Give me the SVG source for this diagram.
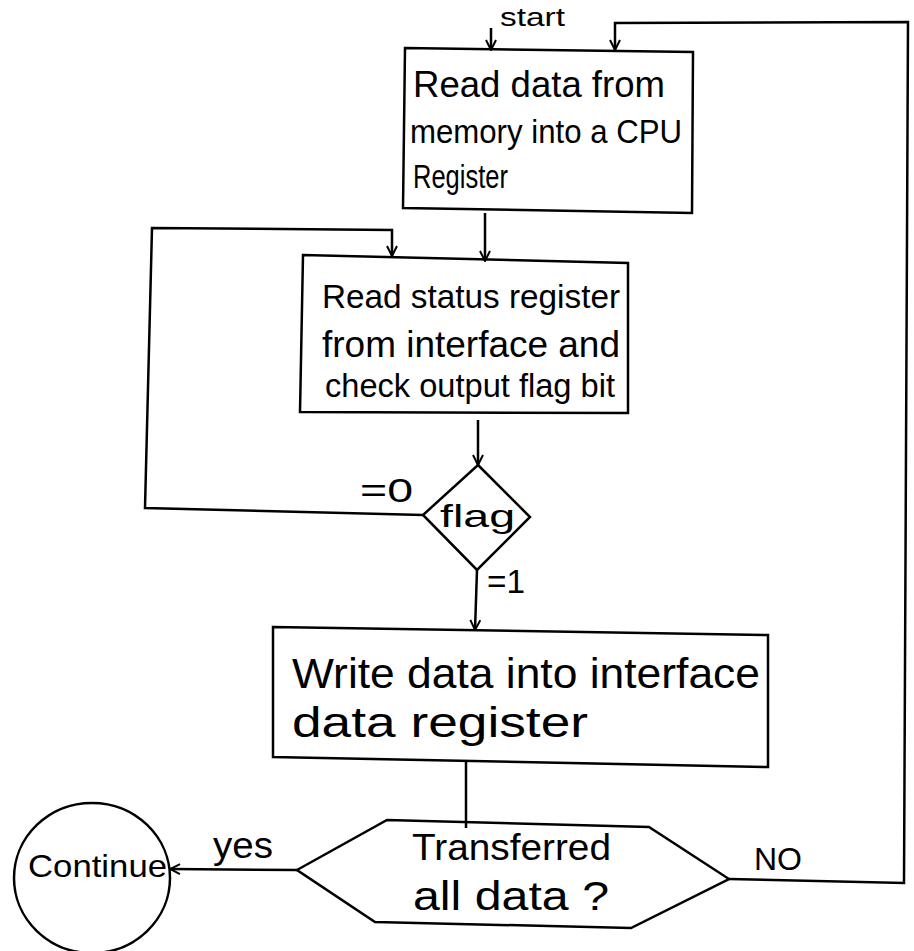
<svg xmlns="http://www.w3.org/2000/svg" width="914" height="951" viewBox="0 0 914 951">
<defs>
<marker id="arr" viewBox="0 0 12 12" refX="11" refY="6" markerWidth="12" markerHeight="12" markerUnits="userSpaceOnUse" orient="auto">
<path d="M1,1 L11,6 L1,11" fill="none" stroke="#000" stroke-width="2"/>
</marker>
<style>
.shape{fill:none;stroke:#000;stroke-width:2.5;stroke-linejoin:miter}
.conn{fill:none;stroke:#000;stroke-width:2.5}
.t{font-family:"Liberation Sans","DejaVu Sans",sans-serif;fill:#000}
</style>
</defs>
<rect width="914" height="951" fill="#fff"/>

<g id="connectors">
<path class="conn" d="M491,28 L491,50" marker-end="url(#arr)"/>
<path class="conn" d="M729,879 L904,883 L908,22 L615,23 L615,50" marker-end="url(#arr)"/>
<path class="conn" d="M485,213 L485,261" marker-end="url(#arr)"/>
<path class="conn" d="M423,515 L145,508 L152,228 L392,230 L392,256" marker-end="url(#arr)"/>
<path class="conn" d="M478,420 L478,465" marker-end="url(#arr)"/>
<path class="conn" d="M477,570 L475,630" marker-end="url(#arr)"/>
<path class="conn" d="M466,762 L466,828"/>
<path class="conn" d="M297,870 L170,869" marker-end="url(#arr)"/>
<text class="t" font-size="26" x="500" y="26" textLength="65" lengthAdjust="spacingAndGlyphs">start</text>
<text class="t" font-size="34" x="360" y="502" textLength="53" lengthAdjust="spacingAndGlyphs">=0</text>
<text class="t" font-size="34" x="487" y="593" textLength="38" lengthAdjust="spacingAndGlyphs">=1</text>
<text class="t" font-size="36" x="213" y="858" textLength="60" lengthAdjust="spacingAndGlyphs">yes</text>
<text class="t" font-size="32" x="754" y="870" textLength="48" lengthAdjust="spacingAndGlyphs">NO</text>
</g>

<g id="read-memory">
<polygon class="shape" points="405,48 693,52 692,213 403,208"/>
<text class="t" font-size="36" x="413" y="97" textLength="252" lengthAdjust="spacingAndGlyphs">Read data from</text>
<text class="t" font-size="34" x="410" y="143" textLength="272" lengthAdjust="spacingAndGlyphs">memory into a CPU</text>
<text class="t" font-size="34" x="413" y="188" textLength="95" lengthAdjust="spacingAndGlyphs">Register</text>
</g>

<g id="read-status">
<polygon class="shape" points="303,255 628,263 628,413 300,412"/>
<text class="t" font-size="34" x="322" y="308" textLength="298" lengthAdjust="spacingAndGlyphs">Read status register</text>
<text class="t" font-size="36" x="322" y="357" textLength="298" lengthAdjust="spacingAndGlyphs">from interface and</text>
<text class="t" font-size="34" x="325" y="397" textLength="290" lengthAdjust="spacingAndGlyphs">check output flag bit</text>
</g>

<g id="flag">
<polygon class="shape" points="478,465 530,517 477,570 423,515"/>
<text class="t" font-size="32" x="440" y="527" textLength="75" lengthAdjust="spacingAndGlyphs">flag</text>
</g>

<g id="write-data">
<polygon class="shape" points="273,627 768,635 768,767 273,757"/>
<text class="t" font-size="42" x="292" y="688" textLength="468" lengthAdjust="spacingAndGlyphs">Write data into interface</text>
<text class="t" font-size="42" x="292" y="737" textLength="296" lengthAdjust="spacingAndGlyphs">data register</text>
</g>

<g id="transferred">
<polygon class="shape" points="297,870 387,820 649,827 729,879 631,928 375,922"/>
<text class="t" font-size="36" x="412" y="860" textLength="199" lengthAdjust="spacingAndGlyphs">Transferred</text>
<text class="t" font-size="40" x="413" y="910" textLength="196" lengthAdjust="spacingAndGlyphs">all data ?</text>
</g>

<g id="continue">
<ellipse class="shape" cx="92" cy="878" rx="78" ry="75"/>
<text class="t" font-size="32" x="28" y="877" textLength="139" lengthAdjust="spacingAndGlyphs">Continue</text>
</g>
</svg>
